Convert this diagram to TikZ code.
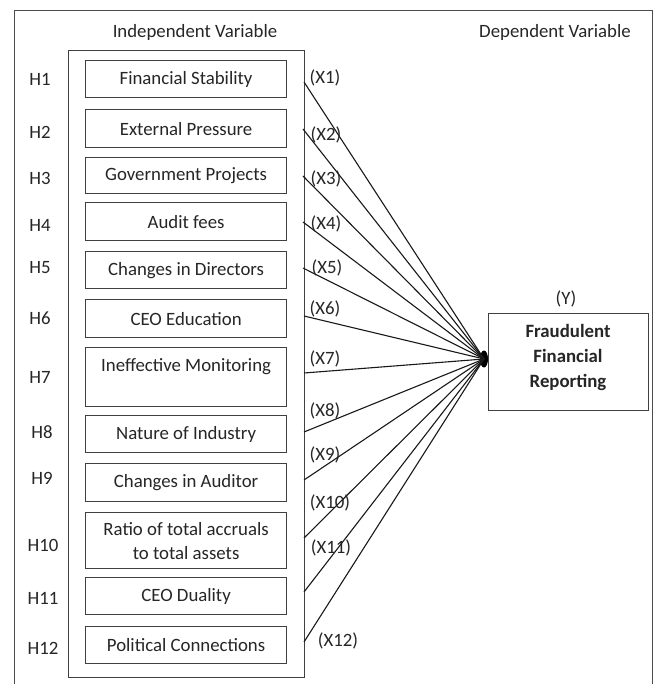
\documentclass[tikz,border=0pt]{standalone}
\usepackage{fontspec}
\setmainfont{Carlito}
\usetikzlibrary{shapes.geometric}
\begin{document}
\begin{tikzpicture}[x=1pt,y=-1pt,
  every node/.style={font=\fontsize{18.8}{22}\selectfont, text=black!85, inner sep=0pt},
  ibox/.style={draw=black!75, line width=1.2pt, minimum width=201pt, anchor=north west},
  conn/.style={draw=black!90, line width=1.1pt},
  hlab/.style={anchor=center},
  xlab/.style={anchor=center}]
\useasboundingbox (0,0) rectangle (658,684);
\fill[white] (0,0) rectangle (658,684);
% outer frame
\draw[black!70, line width=0.8pt] (14,10) -- (14,684) (14,10) -- (652,10) -- (652,684);
% titles
\node (tind) at (195,32) {Independent Variable};
\node (tdep) at (555,32) {Dependent Variable};
% inner container
\node[draw=black!75, line width=1.2pt, minimum width=236pt, minimum height=627pt, anchor=north west] (cont) at (68,50) {};
% item boxes
\node[ibox, minimum height=37pt] (b1) at (85,60) {};
\node at (b1.center) {Financial Stability};
\node[ibox, minimum height=38pt] (b2) at (85,109) {};
\node at (b2.center) {External Pressure};
\node[ibox, minimum height=36pt] (b3) at (85,157) {};
\node at (b3.center) {Government Projects};
\node[ibox, minimum height=38pt] (b4) at (85,202) {};
\node at (b4.center) {Audit fees};
\node[ibox, minimum height=37pt] (b5) at (85,251) {};
\node at (b5.center) {Changes in Directors};
\node[ibox, minimum height=38pt] (b6) at (85,299) {};
\node at (b6.center) {CEO Education};
\node[ibox, minimum height=59pt] (b7) at (85,347) {};
\node at ([yshift=10pt]b7.center) {Ineffective Monitoring};
\node[ibox, minimum height=37pt] (b8) at (85,415) {};
\node at (b8.center) {Nature of Industry};
\node[ibox, minimum height=38pt] (b9) at (85,463) {};
\node at (b9.center) {Changes in Auditor};
\node[ibox, minimum height=56pt] (b10) at (85,512) {};
\node[align=center, font=\fontsize{18.8}{24}\selectfont] at (b10.center) {Ratio of total accruals\\to total assets};
\node[ibox, minimum height=37pt] (b11) at (85,577) {};
\node at (b11.center) {CEO Duality};
\node[ibox, minimum height=37pt] (b12) at (85,626) {};
\node at (b12.center) {Political Connections};
% H labels
\node[hlab] (h1) at (40,79) {H1};
\node[hlab] (h2) at (40,132) {H2};
\node[hlab] (h3) at (40,178) {H3};
\node[hlab] (h4) at (40,225) {H4};
\node[hlab] (h5) at (40,268) {H5};
\node[hlab] (h6) at (40,318) {H6};
\node[hlab] (h7) at (40,377) {H7};
\node[hlab] (h8) at (42,432) {H8};
\node[hlab] (h9) at (42,478) {H9};
\node[hlab] (h10) at (43,545) {H10};
\node[hlab] (h11) at (43,598) {H11};
\node[hlab] (h12) at (43,648) {H12};
% dependent box
\node[draw=black!75, line width=1.2pt, minimum width=160pt, minimum height=97pt, anchor=north west] (dep) at (488,313) {};
\node[font=\fontsize{18.8}{25}\selectfont\bfseries, align=center] (deptxt) at (568,357) {Fraudulent\\Financial\\Reporting};
\node (ylab) at (566,299) {(Y)};
% hub
\node[fill=black, ellipse, minimum width=8pt, minimum height=17pt, inner sep=0pt] (hub) at (484,359) {};
% start points
\coordinate (s1) at (304,82);
\coordinate (s2) at (303,129);
\coordinate (s3) at (303,176);
\coordinate (s4) at (303,222);
\coordinate (s5) at (303,268);
\coordinate (s6) at (304,316);
\coordinate (s7) at (304,373);
\coordinate (s8) at (304,432);
\coordinate (s9) at (304,480);
\coordinate (s10) at (304,538);
\coordinate (s11) at (304,592);
\coordinate (s12) at (304,642);
\foreach \i in {1,...,12} {\draw[conn] (s\i) -- (hub.center);}
% X labels
\node[xlab] (x1) at (325,78) {(X1)};
\node[xlab] (x2) at (326,135) {(X2)};
\node[xlab] (x3) at (326,179) {(X3)};
\node[xlab] (x4) at (326,224) {(X4)};
\node[xlab] (x5) at (327,268) {(X5)};
\node[xlab] (x6) at (325,309) {(X6)};
\node[xlab] (x7) at (325,359) {(X7)};
\node[xlab] (x8) at (325,411) {(X8)};
\node[xlab] (x9) at (325,455) {(X9)};
\node[xlab] (x10) at (330,503) {(X10)};
\node[xlab] (x11) at (331,548) {(X11)};
\node[xlab] (x12) at (338,641) {(X12)};
\end{tikzpicture}
\end{document}
